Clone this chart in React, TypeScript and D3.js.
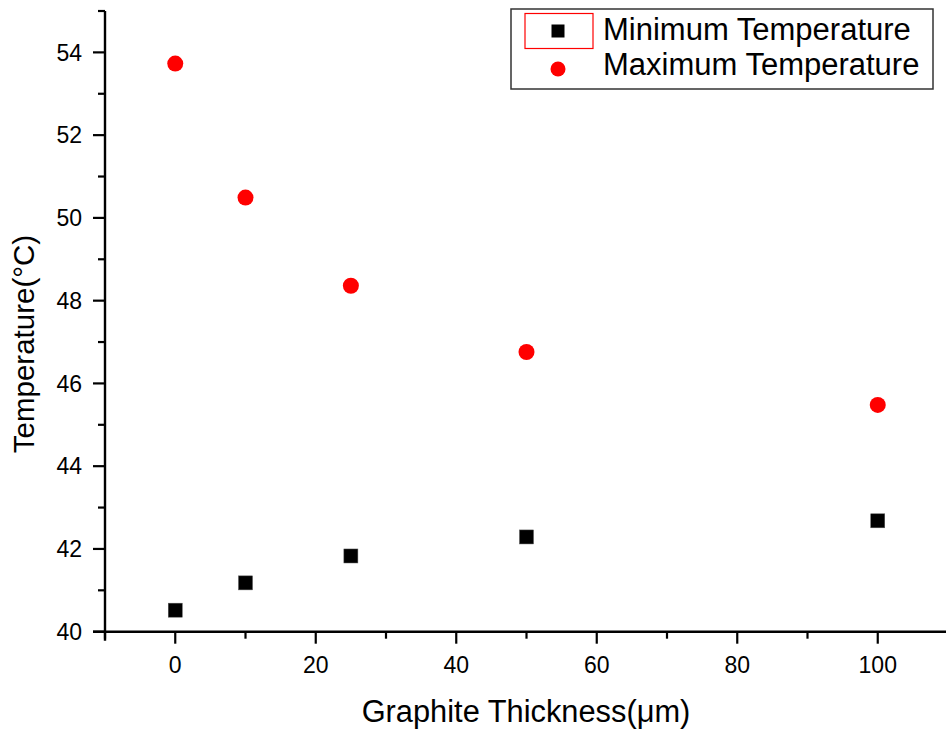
import React from "react";
import * as d3 from "d3";

// Graphite coating thickness (µm) and measured temperatures (°C)
const thickness = [0, 10, 25, 50, 100];
const minTemperature = [40.52, 41.18, 41.83, 42.29, 42.68];
const maxTemperature = [53.73, 50.49, 48.36, 46.76, 45.48];

const xMajorTicks = [0, 20, 40, 60, 80, 100];
const xMinorTicks = [-10, 10, 30, 50, 70, 90, 110];
const yMajorTicks = [40, 42, 44, 46, 48, 50, 52, 54];
const yMinorTicks = [41, 43, 45, 47, 49, 51, 53, 55];

const seriesNames = ["Minimum Temperature", "Maximum Temperature"];

const W = 946;
const H = 733;
const FONT = "'Liberation Sans', Arial, Helvetica, sans-serif";

export default function App() {
  const x = d3.scaleLinear().domain([-10, 110]).range([105, 948]);
  const y = d3.scaleLinear().domain([40, 55]).range([631.7, 11]);
  const x0 = x(-10);
  const y0 = y(40);
  const sq = 14;

  return (
    <svg
      width={W}
      height={H}
      style={{ position: "absolute", left: 0, top: 0, background: "#fff" }}
      fontFamily={FONT}
    >
      <rect width={W} height={H} fill="#fff" />

      {/* y axis */}
      <line x1={x0} x2={x0} y1={y(55)} y2={y0 + 9} stroke="#000" strokeWidth={2.4} />
      {yMajorTicks.map((t) => (
        <g key={"ym" + t}>
          <line x1={x0 - 12} x2={x0} y1={y(t)} y2={y(t)} stroke="#000" strokeWidth={2.2} />
          <text x={82} y={y(t) + 8.2} fontSize={23} textAnchor="end" fill="#000">
            {t}
          </text>
        </g>
      ))}
      {yMinorTicks.map((t) => (
        <line key={"yn" + t} x1={x0 - 7} x2={x0} y1={y(t)} y2={y(t)} stroke="#000" strokeWidth={2.2} />
      ))}

      {/* x axis */}
      <line x1={x0 - 12} x2={W} y1={y0} y2={y0} stroke="#000" strokeWidth={2.4} />
      {xMajorTicks.map((t) => (
        <g key={"xm" + t}>
          <line x1={x(t)} x2={x(t)} y1={y0} y2={y0 + 12} stroke="#000" strokeWidth={2.2} />
          <text x={x(t)} y={673} fontSize={23} textAnchor="middle" fill="#000">
            {t}
          </text>
        </g>
      ))}
      {xMinorTicks.map((t) => (
        <line key={"xn" + t} x1={x(t)} x2={x(t)} y1={y0} y2={y0 + 7} stroke="#000" strokeWidth={2.2} />
      ))}

      {/* axis titles */}
      <text x={526} y={722} fontSize={30.8} textAnchor="middle" fill="#000">
        Graphite Thickness(μm)
      </text>
      <text
        transform={`translate(33.5,344) rotate(-90)`}
        fontSize={29.5}
        textAnchor="middle"
        fill="#000"
      >
        Temperature(°C)
      </text>

      {/* data */}
      {thickness.map((t, i) => (
        <rect
          key={"min" + t}
          x={x(t) - sq / 2}
          y={y(minTemperature[i]) - sq / 2}
          width={sq}
          height={sq}
          fill="#000"
          stroke="#555"
          strokeWidth={0.5}
        />
      ))}
      {thickness.map((t, i) => (
        <circle key={"max" + t} cx={x(t)} cy={y(maxTemperature[i])} r={8} fill="#ff0000" />
      ))}

      {/* legend */}
      <rect x={511} y={9} width={422} height={80} fill="#fff" stroke="#333" strokeWidth={1.5} />
      <rect x={525} y={13.5} width={68} height={35} fill="none" stroke="#ff0000" strokeWidth={1.2} />
      <rect x={558 - 6.5} y={31 - 6.5} width={13} height={13} fill="#000" />
      <circle cx={558} cy={69} r={7.5} fill="#ff0000" />
      <text x={603} y={40} fontSize={31} fill="#000">
        {seriesNames[0]}
      </text>
      <text x={603} y={75} fontSize={31} fill="#000">
        {seriesNames[1]}
      </text>
    </svg>
  );
}
